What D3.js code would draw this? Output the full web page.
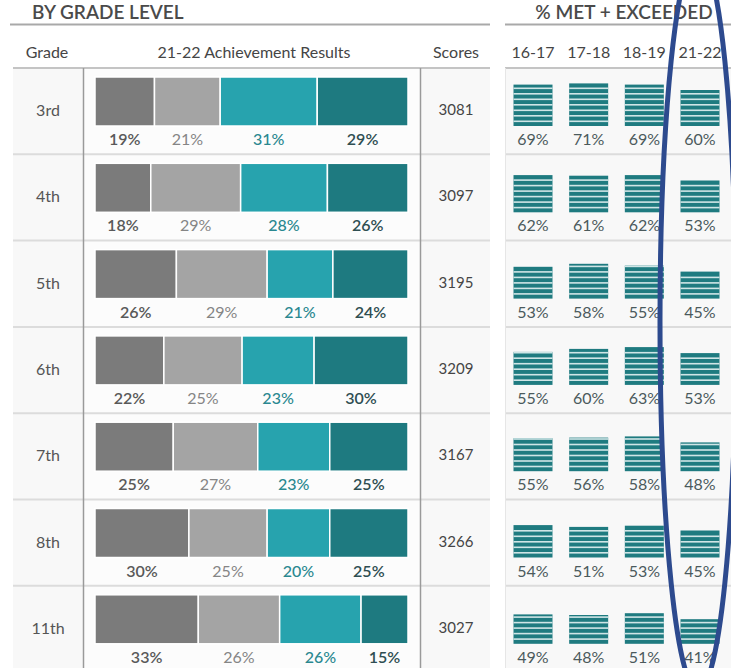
<!DOCTYPE html>
<html><head><meta charset="utf-8">
<script src="https://cdn.jsdelivr.net/npm/d3@7"></script>
<style>
html,body{margin:0;padding:0;background:#fff;}
svg{display:block;font-family:Lato,"Open Sans",sans-serif;}
</style></head>
<body>
<svg id="chart" width="731" height="668"></svg>
<script>
const grades = ["3rd","4th","5th","6th","7th","8th","11th"];
const notMet      = [19,18,26,22,25,30,33];
const nearlyMet   = [21,29,29,25,27,25,26];
const met         = [31,28,21,23,23,20,26];
const exceeded    = [29,26,24,30,25,25,15];
const scores      = [3081,3097,3195,3209,3167,3266,3027];
const years       = ["16-17","17-18","18-19","21-22"];
const pct1617     = [69,62,53,55,55,54,49];
const pct1718     = [71,61,58,60,56,51,48];
const pct1819     = [69,62,55,63,58,53,51];
const pct2122     = [60,53,45,53,48,45,41];

const levels = [notMet, nearlyMet, met, exceeded];
const segColors = ["#7b7b7b","#a4a4a4","#27a3ae","#1e7a80"];
const labelColors = ["#595959","#858585","#2a8890","#2f4e52"];
const labelWeights = [600,400,500,600];
const yearSeries = [pct1617,pct1718,pct1819,pct2122];

const svg = d3.select("#chart");

const y = d3.scaleBand().domain(grades).range([68, 68 + 7*86.3]).padding(0);
const xBar = d3.scaleLinear().range([95, 408]);
const xYear = d3.scalePoint().domain(years).range([533, 700]);
const hIcon = d3.scaleLinear().domain([0,100]).range([0,60]);

// backgrounds
svg.append("rect").attr("x",13).attr("y",68).attr("width",477).attr("height",600).attr("fill","#f8f8f8");
svg.append("rect").attr("x",84).attr("y",68).attr("width",336).attr("height",600).attr("fill","#fcfcfc");
svg.append("rect").attr("x",505).attr("y",68).attr("width",226).attr("height",600).attr("fill","#f8f8f8");

// titles
svg.append("text").attr("x",32).attr("y",19).attr("font-size",19).attr("font-weight",600)
  .attr("fill","#4a4a4a").text("BY GRADE LEVEL");
svg.append("text").attr("x",624).attr("y",19).attr("text-anchor","middle").attr("font-size",19).attr("font-weight",600)
  .attr("fill","#4a4a4a").text("% MET + EXCEEDED");
svg.append("line").attr("x1",10).attr("x2",490).attr("y1",24.5).attr("y2",24.5).attr("stroke","#a9a9a9").attr("stroke-width",2);
svg.append("line").attr("x1",505).attr("x2",731).attr("y1",24.5).attr("y2",24.5).attr("stroke","#a9a9a9").attr("stroke-width",2);

// column headers
const hdrY = 58;
const hdr = [["Grade",47],["21-22 Achievement Results",254],["Scores",456]];
hdr.forEach(h => svg.append("text").attr("x",h[1]).attr("y",hdrY).attr("text-anchor","middle")
  .attr("font-size",16).attr("fill","#454545").text(h[0]));
years.forEach(yr => svg.append("text").attr("x",xYear(yr)).attr("y",hdrY).attr("text-anchor","middle")
  .attr("font-size",16).attr("fill","#454545").text(yr));

// row separators
grades.forEach((g,i) => {
  const s = y(g);
  const c = i===0 ? "#c4c4c4" : "#dcdcdc";
  svg.append("line").attr("x1",13).attr("x2",490).attr("y1",s).attr("y2",s).attr("stroke",c).attr("stroke-width",2);
  svg.append("line").attr("x1",505).attr("x2",731).attr("y1",s).attr("y2",s).attr("stroke",c).attr("stroke-width",2);
});
[83.5, 420.5].forEach(xv => svg.append("line").attr("x1",xv).attr("x2",xv).attr("y1",68).attr("y2",668)
  .attr("stroke","#9a9a9a").attr("stroke-width",1.5));
svg.append("line").attr("x1",505.5).attr("x2",505.5).attr("y1",68).attr("y2",668).attr("stroke","#e6e6e6").attr("stroke-width",1);

// rows
grades.forEach((g,i) => {
  const top = y(g);
  const row = svg.append("g");
  row.append("text").attr("x",48).attr("y",top+48).attr("text-anchor","middle")
    .attr("font-size",16).attr("fill","#555").text(g);
  row.append("text").attr("x",456).attr("y",top+47).attr("text-anchor","middle")
    .attr("font-size",15).attr("fill","#454545").text(scores[i]);

  const vals = levels.map(l => l[i]);
  const total = d3.sum(vals);
  const xs = xBar.copy().domain([0,total]);
  let cum = 0;
  vals.forEach((v,k) => {
    const x0 = xs(cum), x1 = xs(cum+v);
    cum += v;
    row.append("rect").attr("x",x0).attr("y",top+9).attr("width",x1-x0).attr("height",49)
      .attr("fill",segColors[k]).attr("stroke","#fff").attr("stroke-width",1.5);
    row.append("text").attr("x",(x0+x1)/2).attr("y",top+77).attr("text-anchor","middle")
      .attr("font-size",16).attr("font-weight",labelWeights[k]).attr("fill",labelColors[k]).text(v+"%");
  });

  years.forEach((yr,j) => {
    const v = yearSeries[j][i];
    const h = hIcon(v);
    const cx = xYear(yr);
    const bottom = top + 58;
    const ig = row.append("g");
    ig.append("rect").attr("x",cx-19.5).attr("y",bottom-h).attr("width",39).attr("height",h).attr("fill","#1f7b80");
    for (let s = bottom - 4; s > bottom - h + 1; s -= 5.5) {
      ig.append("rect").attr("x",cx-19.5).attr("y",s-1.5).attr("width",39).attr("height",1.6).attr("fill","#cfe5e6");
    }
    row.append("text").attr("x",cx).attr("y",top+77).attr("text-anchor","middle")
      .attr("font-size",16).attr("fill","#4b5a5c").text(v+"%");
  });
});

// highlight oval around the latest year column
svg.append("ellipse").attr("cx",698).attr("cy",322).attr("rx",38).attr("ry",369)
  .attr("fill","none").attr("stroke","#2d4a8e").attr("stroke-width",5);
</script>
</body></html>
